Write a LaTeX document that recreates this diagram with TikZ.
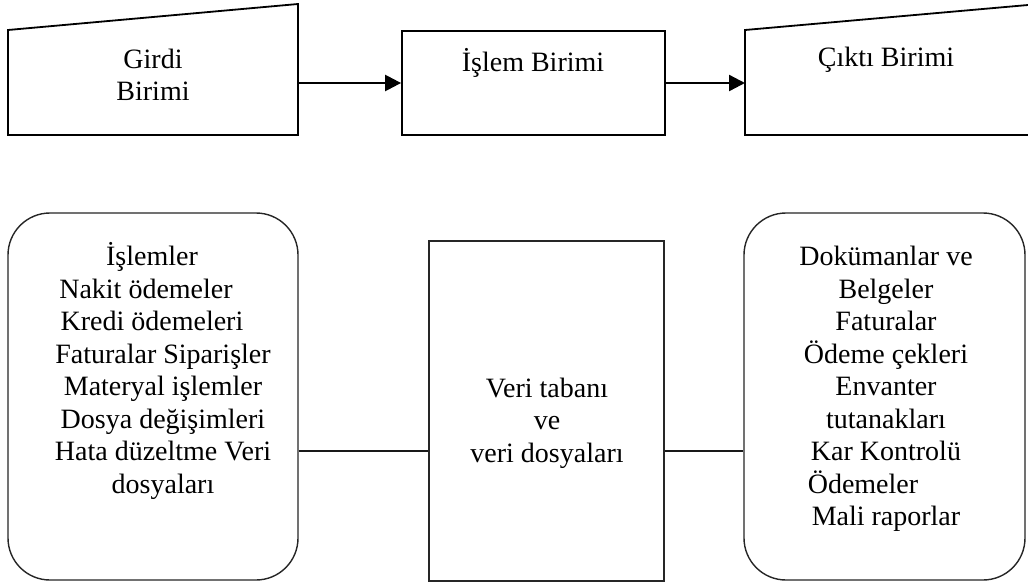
\documentclass[tikz,border=0pt]{standalone}
\usepackage{fontspec}
\setmainfont{Liberation Serif}
\usetikzlibrary{arrows.meta}
\begin{document}
\begin{tikzpicture}[x=1pt,y=-1pt,
  unit/.style={draw=black, line width=1.8pt},
  box/.style={draw=black!85, line width=1.4pt, rectangle, inner sep=0pt},
  roundbox/.style={box, rounded corners=42pt},
  txt/.style={font=\fontsize{28}{32.5}\selectfont, align=center, inner sep=0pt, text=black},
  flow/.style={line width=2.4pt, -{Triangle[length=16pt,width=16pt]}},
  link/.style={line width=1.4pt, draw=black!90}]
\useasboundingbox (0,0) rectangle (1028,584);
\fill[white] (0,0) rectangle (1028,584);

% top row: input, processing, output units
\draw[unit] (8,30) -- (298,4) -- (298,135) -- (8,135) -- cycle;
\coordinate (girdiR) at (298,83);
\node[txt] (girdi) at (153,75) {Girdi\\Birimi};

\node[box, draw=black, line width=1.8pt, minimum width=263pt, minimum height=104pt] (islem) at (533.5,83) {};
\node[txt, anchor=base] (islemtxt) at (533,71) {İşlem Birimi};

\draw[unit] (1028,5) -- (745,30) -- (745,135) -- (1028,135);
\coordinate (ciktiL) at (745,83);
\node[txt, anchor=base] (ciktitxt) at (886,66) {Çıktı Birimi};

\draw[flow] (girdiR) -- (islem.west);
\draw[flow] (islem.east) -- (ciktiL);

% bottom row: transactions, database, documents
\node[roundbox, minimum width=290pt, minimum height=367pt] (islemler) at (153,396.5) {};
\node[txt] (islemlertxt) at (163,371) {İşlemler\hspace{22pt}\mbox{}\\
  Nakit ödemeler\hspace{34pt}\mbox{}\\
  Kredi ödemeleri\hspace{22pt}\mbox{}\\
  Faturalar Siparişler\\
  Materyal işlemler\\
  Dosya değişimleri\\
  Hata düzeltme Veri\\
  dosyaları};

\node[box, minimum width=235pt, minimum height=340pt] (veri) at (546.5,411) {};
\node[txt] (veritxt) at (547,423) {Veri tabanı\\ve\\veri dosyaları};

\node[roundbox, minimum width=281pt, minimum height=367pt] (belgeler) at (884.5,396.5) {};
\node[txt] (belgelertxt) at (886,389) {Dokümanlar ve\\
  Belgeler\\
  Faturalar\\
  Ödeme çekleri\\
  Envanter\\
  tutanakları\\
  Kar Kontrolü\\
  Ödemeler\hspace{46pt}\mbox{}\\
  Mali raporlar};

\draw[link] (islemler.east |- 0,451) -- (veri.west |- 0,451);
\draw[link] (veri.east |- 0,451) -- (belgeler.west |- 0,451);
\end{tikzpicture}
\end{document}
